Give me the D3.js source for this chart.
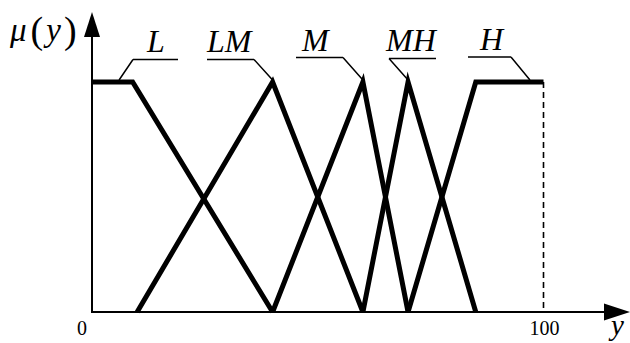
<!DOCTYPE html>
<html>
<head>
<meta charset="utf-8">
<script src="https://cdn.jsdelivr.net/npm/d3@7"></script>
<style>
  html, body { margin: 0; padding: 0; background: #fff; }
  svg { display: block; }
  text { font-family: "Liberation Serif", serif; fill: #000; }
</style>
</head>
<body>
<svg id="chart" width="630" height="343"></svg>
<script>
// Fuzzy sets of the output variable y (universe 0..100)
const setNames = ["L", "LM", "M", "MH", "H"];
const setX = [
  [0, 9, 40],
  [10, 40, 60],
  [40, 60, 70],
  [60, 70, 85],
  [70, 85, 100, 100]
];
const setMu = [
  [1, 1, 0],
  [0, 1, 0],
  [0, 1, 0],
  [0, 1, 0],
  [0, 1, 1, 1]
];
// Point on each set that its name label points at (y value, membership)
const labelAnchorX = [6, 40, 60, 70, 97];
const labelAnchorMu = [1, 1, 1, 1, 1];
const xTickValues = [0, 100];
const xTickLabels = ["0", "100"];

const svg = d3.select("#chart");
const x = d3.scaleLinear().domain([0, 100]).range([92, 543.5]);
const y = d3.scaleLinear().domain([0, 1]).range([312, 82]);

// Axes with arrowheads
const x0 = x(0), y0 = y(0);
svg.append("line").attr("x1", x0).attr("y1", y0 + 1).attr("x2", x0).attr("y2", 36)
  .attr("stroke", "#000").attr("stroke-width", 2);
svg.append("path").attr("d", `M${x0},12 L${x0 - 8},37 L${x0 + 8},37 Z`).attr("fill", "#000");
svg.append("line").attr("x1", x0 - 1).attr("y1", y0).attr("x2", 606).attr("y2", y0)
  .attr("stroke", "#000").attr("stroke-width", 2);
svg.append("path").attr("d", `M630,${y0} L604,${y0 - 8.5} L604,${y0 + 8.5} Z`).attr("fill", "#000");

// Dashed marker at the end of the universe
svg.append("line").attr("x1", x(100)).attr("y1", y(1)).attr("x2", x(100)).attr("y2", y0)
  .attr("stroke", "#000").attr("stroke-width", 1.6).attr("stroke-dasharray", "6,4");

// Membership functions
const line = d3.line().x(d => x(d[0])).y(d => y(d[1]));
setNames.forEach((name, i) => {
  const pts = setX[i].map((v, k) => [v, setMu[i][k]]);
  svg.append("path").attr("d", line(pts))
    .attr("fill", "none").attr("stroke", "#000").attr("stroke-width", 5)
    .attr("stroke-linejoin", "miter").attr("stroke-miterlimit", 10);
});

// Name labels with leader lines
const leaderGeom = [
  { hx1: 133, hx2: 178, hy: 59.5, elbow: 133, tx: 147, ty: 52 },
  { hx1: 207, hx2: 254, hy: 59.5, elbow: 254, tx: 207, ty: 52 },
  { hx1: 296, hx2: 343, hy: 57.5, elbow: 343, tx: 302, ty: 51 },
  { hx1: 389, hx2: 436, hy: 58.5, elbow: 389, tx: 386, ty: 51 },
  { hx1: 468, hx2: 511, hy: 57, elbow: 511, tx: 480, ty: 50 }
];
setNames.forEach((name, i) => {
  const g = leaderGeom[i];
  const ax = x(labelAnchorX[i]), ay = y(labelAnchorMu[i]) - 2;
  svg.append("path")
    .attr("d", `M${g.hx1},${g.hy} L${g.hx2},${g.hy} M${g.elbow},${g.hy} L${ax},${ay}`)
    .attr("fill", "none").attr("stroke", "#000").attr("stroke-width", 1.5);
  svg.append("text").attr("x", g.tx).attr("y", g.ty)
    .attr("font-size", 32).attr("font-style", "italic").text(name);
});

// Tick labels
xTickValues.forEach((v, i) => {
  svg.append("text").attr("x", v === 0 ? 82 : x(v) + 1).attr("y", 335)
    .attr("text-anchor", "middle").attr("font-size", 20).text(xTickLabels[i]);
});

// Axis titles
const mu = svg.append("text").attr("x", 10).attr("y", 41).attr("font-size", 33);
mu.append("tspan").attr("font-style", "italic").text("μ");
mu.append("tspan").attr("dx", 4).attr("font-size", 38).attr("dy", 2).text("(");
mu.append("tspan").attr("dx", 3).attr("dy", -2).attr("font-style", "italic").text("y");
mu.append("tspan").attr("dx", 3).attr("font-size", 38).attr("dy", 2).text(")");

svg.append("text").attr("x", 611).attr("y", 335)
  .attr("font-size", 29).attr("font-style", "italic").text("y");
</script>
</body>
</html>
